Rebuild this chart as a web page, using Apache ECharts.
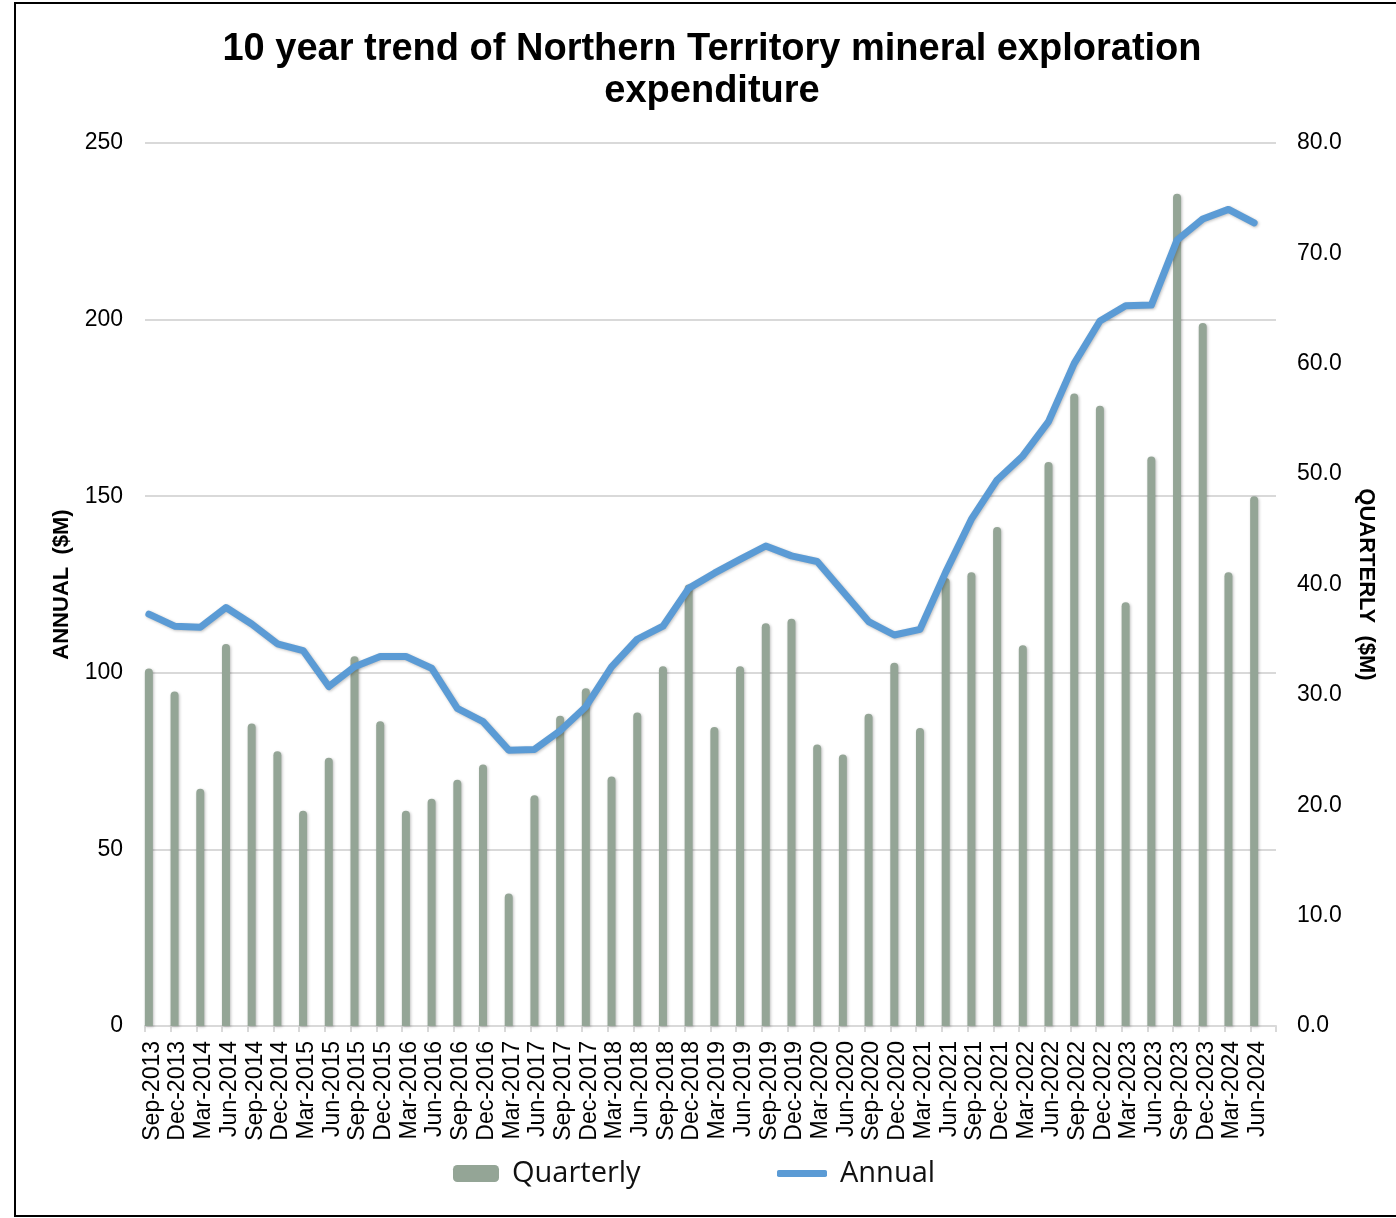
<!DOCTYPE html>
<html>
<head>
<meta charset="utf-8">
<script src="https://cdn.jsdelivr.net/npm/echarts@6/dist/echarts.min.js"></script>
<style>
  html, body { margin: 0; padding: 0; background: #fff; }
  #chart { width: 1396px; height: 1218px; }
</style>
</head>
<body>
<div id="chart"></div>
<script>
// quarter labels
const quarters = [
  'Sep-2013', 'Dec-2013', 'Mar-2014', 'Jun-2014', 'Sep-2014', 'Dec-2014',
  'Mar-2015', 'Jun-2015', 'Sep-2015', 'Dec-2015', 'Mar-2016', 'Jun-2016',
  'Sep-2016', 'Dec-2016', 'Mar-2017', 'Jun-2017', 'Sep-2017', 'Dec-2017',
  'Mar-2018', 'Jun-2018', 'Sep-2018', 'Dec-2018', 'Mar-2019', 'Jun-2019',
  'Sep-2019', 'Dec-2019', 'Mar-2020', 'Jun-2020', 'Sep-2020', 'Dec-2020',
  'Mar-2021', 'Jun-2021', 'Sep-2021', 'Dec-2021', 'Mar-2022', 'Jun-2022',
  'Sep-2022', 'Dec-2022', 'Mar-2023', 'Jun-2023', 'Sep-2023', 'Dec-2023',
  'Mar-2024', 'Jun-2024'
]

// quarterly expenditure ($M), right axis
const quarterly = [
  32.4, 30.3, 21.5, 34.6, 27.4, 24.9, 19.5, 24.3, 33.5, 27.6, 19.5, 20.6,
  22.3, 23.7, 12.0, 20.9, 28.1, 30.6, 22.6, 28.4, 32.6, 40.0, 27.1, 32.6,
  36.5, 36.9, 25.5, 24.6, 28.3, 32.9, 27.0, 40.6, 41.1, 45.2, 34.5, 51.1,
  57.3, 56.2, 38.4, 51.6, 75.4, 63.7, 41.1, 48.0
]

// rolling annual expenditure ($M), left axis
const annual = [
  116.6, 113.2, 112.9, 118.5, 113.8, 108.2, 106.3, 96.1, 101.7, 104.6, 104.6, 101.3,
  89.9, 86.2, 78.1, 78.3, 83.6, 90.4, 101.7, 109.5, 113.2, 123.9, 128.2, 132.1,
  135.9, 133.1, 131.5, 123.0, 114.5, 110.7, 112.3, 128.5, 143.5, 154.6, 161.4, 171.1,
  187.6, 199.6, 203.9, 204.1, 222.5, 228.5, 231.2, 227.4
]

const leftTicks = { min: 0, max: 250, interval: 50 }
const rightTicks = { min: 0, max: 80, interval: 10 }

// bars/line sit a bit left of each category centre in the original
const shift = 0.15

const chart = echarts.init(document.getElementById('chart'))

const gray = '#d9d9d9'
const axisFont = 'Liberation Sans, Arial, sans-serif'
const legendText = { fontFamily: 'Open Sans', fontSize: 29, color: '#111' }

chart.setOption({
  animation: false,
  backgroundColor: '#fff',
  title: {
    text: '10 year trend of Northern Territory mineral exploration\nexpenditure',
    left: 712,
    top: 29,
    textAlign: 'center',
    padding: 0,
    textStyle: {
      fontFamily: axisFont,
      fontWeight: 'bold',
      fontSize: 38,
      lineHeight: 42,
      color: '#000'
    }
  },
  graphic: [{
    type: 'rect',
    shape: { x: 15, y: 3, width: 1400, height: 1213 },
    style: { fill: 'none', stroke: '#000', lineWidth: 2 },
    silent: true
  }],
  legend: [{
    data: ['Quarterly'],
    left: 448,
    top: 1154,
    itemWidth: 46,
    itemHeight: 17,
    icon: 'roundRect',
    itemGap: 20,
    textStyle: Object.assign({ padding: [0, 0, 0, 8] }, legendText)
  }, {
    data: [{ name: 'Annual', icon: 'roundRect' }],
    left: 772,
    top: 1154,
    itemWidth: 50,
    itemHeight: 7,
    textStyle: Object.assign({ padding: [0, 0, 0, 8] }, legendText)
  }],
  // grid 0 holds the plot; grid 1 is the same box nudged left, only for the x labels
  grid: [
    { left: 145, right: 120, top: 143, bottom: 192 },
    { left: 139.5, right: 125.5, top: 143, bottom: 192 }
  ],
  xAxis: [{
    type: 'category',
    gridIndex: 0,
    data: quarters,
    boundaryGap: true,
    axisLine: { lineStyle: { color: gray, width: 2 } },
    axisTick: { show: true, interval: 0, length: 6, lineStyle: { color: gray, width: 2 } },
    axisLabel: { show: false },
    splitLine: { show: false }
  }, {
    type: 'value',
    gridIndex: 0,
    show: false,
    min: -shift,
    max: quarters.length - shift
  }, {
    type: 'category',
    gridIndex: 1,
    data: quarters,
    boundaryGap: true,
    axisLine: { show: false },
    axisTick: { show: false },
    axisLabel: {
      interval: 0,
      rotate: 90,
      margin: 15,
      fontFamily: axisFont,
      fontSize: 23,
      color: '#000'
    },
    splitLine: { show: false }
  }],
  yAxis: [{
    type: 'value',
    gridIndex: 0,
    min: leftTicks.min,
    max: leftTicks.max,
    interval: leftTicks.interval,
    name: 'ANNUAL  ($M)',
    nameLocation: 'middle',
    nameRotate: 90,
    nameGap: 72,
    nameTextStyle: { fontFamily: axisFont, fontWeight: 'bold', fontSize: 22, color: '#000' },
    axisLine: { show: false },
    axisTick: { show: false },
    axisLabel: { margin: 22, fontFamily: axisFont, fontSize: 23, color: '#000' },
    splitLine: { lineStyle: { color: gray, width: 2 } }
  }, {
    type: 'value',
    gridIndex: 0,
    position: 'right',
    min: rightTicks.min,
    max: rightTicks.max,
    interval: rightTicks.interval,
    name: 'QUARTERLY  ($M)',
    nameLocation: 'middle',
    nameRotate: -90,
    nameGap: 79,
    nameTextStyle: { fontFamily: axisFont, fontWeight: 'bold', fontSize: 22, color: '#000' },
    axisLine: { show: false },
    axisTick: { show: false },
    axisLabel: {
      margin: 21,
      fontFamily: axisFont,
      fontSize: 23,
      color: '#000',
      formatter: v => v.toFixed(1)
    },
    splitLine: { show: false }
  }, {
    type: 'value',
    gridIndex: 1,
    show: false
  }],
  series: [{
    name: 'Quarterly',
    type: 'bar',
    xAxisIndex: 1,
    yAxisIndex: 1,
    barWidth: 8,
    data: quarterly.map((v, i) => [i, v]),
    itemStyle: {
      color: '#94a596',
      borderRadius: [4, 4, 0, 0],
      shadowColor: 'rgba(0,0,0,0.25)',
      shadowBlur: 3,
      shadowOffsetX: 1,
      shadowOffsetY: 1
    },
    z: 2
  }, {
    name: 'Annual',
    type: 'line',
    xAxisIndex: 1,
    yAxisIndex: 0,
    symbol: 'none',
    data: annual.map((v, i) => [i, v]),
    lineStyle: {
      color: '#5b9bd5',
      width: 7,
      join: 'round',
      cap: 'round',
      shadowColor: 'rgba(0,0,0,0.25)',
      shadowBlur: 3,
      shadowOffsetX: 1,
      shadowOffsetY: 1
    },
    itemStyle: { color: '#5b9bd5' },
    z: 3
  }]
})
</script>
</body>
</html>
